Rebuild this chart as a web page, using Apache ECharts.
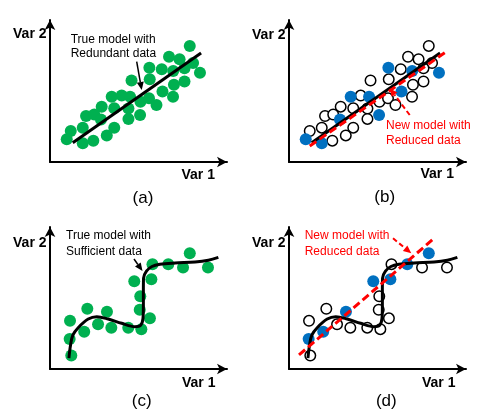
<!DOCTYPE html>
<html><head><meta charset="utf-8">
<script src="https://cdn.jsdelivr.net/npm/echarts@6/dist/echarts.min.js"></script>
<style>html,body{margin:0;padding:0;background:#fff}#c{width:497px;height:420px}</style>
</head><body><div id="c"></div><script>
// Panels (a)/(b): linear relation, redundant data
const redundantX = [9.2,11.4,18.0,18.0,23.8,31.2,35.3,19.8,24.3,28.0,28.4,35.3,33.9,39.4,44.0,43.1,43.1,49.5,49.7,54.4,58.5,61.8,67.6,68.1,73.9,44.8,54.8,54.6,61.4,67.7,65.4,71.2,76.8,78.6,82.4,73.9];
const redundantY = [15.5,21.2,23.5,12.8,14.6,18.2,23.5,31.5,32.5,29.1,37.9,36.8,44.7,45.5,44.7,36.6,29.5,32.2,41.3,43.6,39.0,48.3,44.7,52.9,55.1,55.8,56.6,64.6,63.6,62.3,72.1,70.4,79.5,67.8,61.2,64.2];
const reducedIdxB = [0,3,9,12,14,17,21,27,29,34];
const trueLineX = [12.5,83.0];
const trueLineY = [13.2,74.7];
const newLineBX = [11.4,86.4];
const newLineBY = [11.0,75.5];
// Panels (c)/(d): nonlinear relation, sufficient data
const sufficientX = [11.7,10.8,11.0,18.8,20.5,26.4,31.3,33.7,43.0,50.2,54.9,49.3,49.6,46.3,55.7,56.3,65.0,73.1,76.8,86.8];
const sufficientY = [9.2,20.5,33.0,25.5,41.3,30.6,39.2,28.3,28.3,27.3,34.7,40.6,49.8,60.1,61.4,71.8,71.8,69.5,79.2,69.5];
const reducedIdxD = [1,3,6,13,14,16,18];
const curveX = [10.4,11.3,12.6,15.5,21.0,25.7,32.0,39.4,46.7,49.7,51.1,51.3,51.3,51.4,53.0,56.0,60.4,68.7,79.7,87.0,92.5];
const curveY = [7.5,16.4,23.3,28.3,34.2,35.8,34.2,31.3,29.0,29.8,34.6,43.2,54.1,62.3,67.1,70.2,71.7,72.6,73.3,74.5,76.4];
const newLineDX = [5.5,79.7];
const newLineDY = [9.6,89.5];
const axisNameX = 'Var 1', axisNameY = 'Var 2';
const panelLabels = ['(a)','(b)','(c)','(d)'];

const GREEN = '#00b050', BLUE = '#0070c0', RED = '#ff0000';
const FONT = '"Liberation Sans", Arial, sans-serif';
const zip = (xs, ys) => xs.map((x, i) => [x, ys[i]]);
const pick = (xs, ys, idx) => idx.map(i => [xs[i], ys[i]]);
const omit = (xs, ys, idx) => xs.map((x, i) => [x, ys[i]]).filter((_, i) => idx.indexOf(i) < 0);

const grids = [
  {left:50, top:20, width:177, height:142},
  {left:289, top:20, width:177, height:142},
  {left:50, top:227, width:177, height:142},
  {left:289, top:227, width:177, height:142}
];
const axisBase = {
  type:'value', min:0, max:97.25,
  axisLine:{show:true, onZero:false, symbol:['none','arrow'], symbolSize:[8,10], lineStyle:{color:'#000', width:2}},
  axisTick:{show:false}, axisLabel:{show:false}, splitLine:{show:false}
};
const xAxis = grids.map((g, i) => Object.assign({gridIndex:i}, axisBase));
const yAxis = grids.map((g, i) => Object.assign({gridIndex:i}, axisBase));

function scatter(i, data, filled, color) {
  return {type:'scatter', xAxisIndex:i, yAxisIndex:i, data, symbolSize: filled ? 12 : 10.5,
    itemStyle: filled ? {color, opacity:1} : {color:'#fff', borderColor:'#000', borderWidth:1.5, opacity:1},
    silent:true, animation:false};
}
function line(i, data, opts) {
  return Object.assign({type:'line', xAxisIndex:i, yAxisIndex:i, data, showSymbol:false, symbol:'none',
    lineStyle:{color:'#000', width:3}, silent:true, animation:false}, opts || {});
}

const series = [
  scatter(0, zip(redundantX, redundantY), true, GREEN),
  line(0, zip(trueLineX, trueLineY)),
  scatter(1, omit(redundantX, redundantY, reducedIdxB), false),
  scatter(1, pick(redundantX, redundantY, reducedIdxB), true, BLUE),
  line(1, zip(trueLineX, trueLineY)),
  line(1, zip(newLineBX, newLineBY), {lineStyle:{color:RED, width:3, type:[8,4]}}),
  scatter(2, zip(sufficientX, sufficientY), true, GREEN),
  line(2, zip(curveX, curveY), {smooth:0.35}),
  scatter(3, omit(sufficientX, sufficientY, reducedIdxD), false),
  scatter(3, pick(sufficientX, sufficientY, reducedIdxD), true, BLUE),
  line(3, zip(curveX, curveY), {smooth:0.35}),
  line(3, zip(newLineDX, newLineDY), {lineStyle:{color:RED, width:3, type:[8,4]}})
];

function txt(text, x, y, opt) {
  const o = Object.assign({size:12, weight:'normal', color:'#000', align:'left'}, opt || {});
  return {type:'text', silent:true, z:10, style:{text, x, y, fill:o.color,
    font: o.weight + ' ' + o.size + 'px ' + FONT,
    textAlign:o.align, align:o.align, textVerticalAlign:'middle', verticalAlign:'middle'}};
}
function arrow(x1, y1, x2, y2, color, dashed) {
  const dx = x2 - x1, dy = y2 - y1, L = Math.sqrt(dx*dx + dy*dy);
  const ux = dx / L, uy = dy / L, hl = 8, hw = 3.5;
  const bx = x2 - ux*hl, by = y2 - uy*hl;
  return [
    {type:'line', silent:true, z:10, shape:{x1, y1, x2:bx, y2:by},
      style:{stroke:color, lineWidth: dashed ? 2 : 1.5, lineDash: dashed ? [5,3] : null}},
    {type:'polygon', silent:true, z:10, shape:{points:[[x2,y2],[bx - uy*hw, by + ux*hw],[bx + uy*hw, by - ux*hw]]},
      style:{fill:color}}
  ];
}

const graphic = [
  txt(axisNameY, 46.5, 34.5, {size:14, weight:'bold', align:'right'}),
  txt(axisNameX, 181.5, 175, {size:14, weight:'bold'}),
  txt(panelLabels[0], 143, 198, {size:17, align:'center'}),
  txt(axisNameY, 285.5, 35, {size:14, weight:'bold', align:'right'}),
  txt(axisNameX, 420.5, 174.5, {size:14, weight:'bold'}),
  txt(panelLabels[1], 384.7, 197.5, {size:17, align:'center'}),
  txt(axisNameY, 46.5, 243.5, {size:14, weight:'bold', align:'right'}),
  txt(axisNameX, 182, 383.5, {size:14, weight:'bold'}),
  txt(panelLabels[2], 141.7, 401.7, {size:17, align:'center'}),
  txt(axisNameY, 285.5, 243.5, {size:14, weight:'bold', align:'right'}),
  txt(axisNameX, 422, 383.5, {size:14, weight:'bold'}),
  txt(panelLabels[3], 386.3, 401.7, {size:17, align:'center'}),
  txt('True model with', 70.7, 39.3),
  txt('Redundant data', 70.7, 54),
  txt('New model with', 386, 126, {color:RED}),
  txt('Reduced data', 386, 140.7, {color:RED}),
  txt('True model with', 66, 236),
  txt('Sufficient data', 66, 251.7),
  txt('New model with', 304.7, 236, {color:RED}),
  txt('Reduced data', 304.7, 251.7, {color:RED})
].concat(
  arrow(136.7, 61.7, 141.7, 90, '#000', false),
  arrow(409.7, 115, 389.7, 88.3, RED, true),
  arrow(134, 259, 142.5, 271, '#000', false),
  arrow(393, 238.3, 411.3, 253.3, RED, true)
);

const chart = echarts.init(document.getElementById('c'), null, {renderer:'canvas'});
chart.setOption({animation:false, backgroundColor:'#fff', grid:grids, xAxis, yAxis, series, graphic});
</script></body></html>
